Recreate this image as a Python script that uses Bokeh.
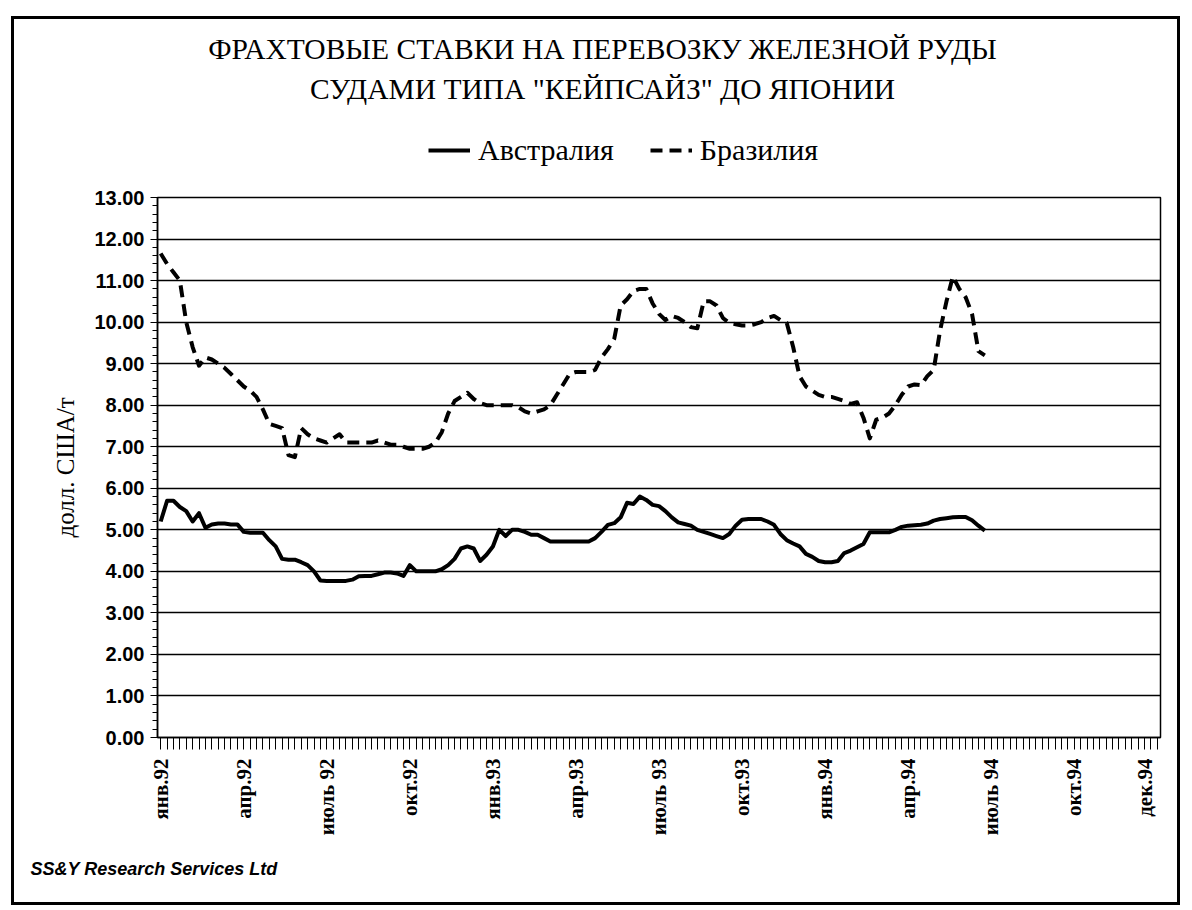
from bokeh.plotting import figure
from bokeh.models import Range1d, FixedTicker, Legend, LegendItem, PrintfTickFormatter, Title, Label
from bokeh.layouts import column
from bokeh.embed import file_html
from bokeh.resources import INLINE
import math

# ---------------- data ----------------
title_lines = ["ФРАХТОВЫЕ СТАВКИ НА ПЕРЕВОЗКУ ЖЕЛЕЗНОЙ РУДЫ",
               "СУДАМИ ТИПА \"КЕЙПСАЙЗ\" ДО ЯПОНИИ"]
series_names = ["Австралия", "Бразилия"]
y_label = "долл. США/т"
source_text = "SS&Y Research Services Ltd"

n_weeks = 157  # weekly categories Jan 92 .. Dec 94

australia = [5.2, 5.7, 5.7, 5.55, 5.45, 5.2, 5.4, 5.05, 5.13, 5.15,
             5.15, 5.13, 5.13, 4.95, 4.93, 4.93, 4.93, 4.75, 4.6, 4.3,
             4.28, 4.28, 4.22, 4.15, 4.0, 3.78, 3.77, 3.77, 3.77, 3.77,
             3.8, 3.88, 3.89, 3.89, 3.93, 3.97, 3.97, 3.95, 3.89, 4.15,
             4.0, 4.0, 4.0, 4.0, 4.05, 4.15, 4.3, 4.55, 4.6, 4.55,
             4.25, 4.4, 4.6, 5.0, 4.85, 5.0, 5.0, 4.95, 4.88, 4.88,
             4.8, 4.72, 4.72, 4.72, 4.72, 4.72, 4.72, 4.72, 4.8, 4.95,
             5.12, 5.16, 5.3, 5.65, 5.62, 5.8, 5.72, 5.6, 5.57, 5.45,
             5.3, 5.18, 5.14, 5.1, 5.0, 4.95, 4.9, 4.85, 4.8, 4.9,
             5.1, 5.24, 5.26, 5.26, 5.26, 5.2, 5.12, 4.9, 4.75, 4.67,
             4.6, 4.42, 4.35, 4.25, 4.22, 4.22, 4.25, 4.44, 4.5, 4.58,
             4.66, 4.94, 4.94, 4.94, 4.94, 5.0, 5.07, 5.1, 5.11, 5.12,
             5.15, 5.22, 5.26, 5.28, 5.3, 5.31, 5.31, 5.23, 5.1, 4.98]

brazil = [11.65, 11.4, 11.2, 11.0, 10.0, 9.4, 8.95, 9.15, 9.1, 9.0,
          8.9, 8.75, 8.6, 8.45, 8.35, 8.2, 7.9, 7.55, 7.5, 7.45,
          6.8, 6.75, 7.45, 7.3, 7.2, 7.15, 7.1, 7.2, 7.3, 7.1,
          7.1, 7.1, 7.1, 7.1, 7.15, 7.1, 7.05, 7.05, 7.0, 6.95,
          6.95, 6.95, 7.0, 7.1, 7.35, 7.8, 8.1, 8.2, 8.3, 8.15,
          8.05, 8.0, 8.0, 8.0, 8.0, 8.0, 7.95, 7.85, 7.8, 7.85,
          7.9, 8.0, 8.25, 8.5, 8.75, 8.8, 8.8, 8.8, 8.85, 9.15,
          9.35, 9.6, 10.4, 10.55, 10.75, 10.8, 10.8, 10.45, 10.2, 10.05,
          10.15, 10.1, 10.0, 9.88, 9.85, 10.5, 10.5, 10.4, 10.1, 9.98,
          9.95, 9.92, 9.92, 9.95, 10.0, 10.1, 10.15, 10.05, 9.98, 9.4,
          8.7, 8.45, 8.35, 8.25, 8.2, 8.2, 8.15, 8.1, 8.03, 8.07,
          7.7, 7.2, 7.65, 7.7, 7.8, 8.0, 8.25, 8.45, 8.5, 8.48,
          8.7, 8.85, 9.8, 10.5, 11.1, 10.8, 10.6, 10.2, 9.3, 9.2]

x_tick_labels = ["янв.92", "апр.92", "июль 92", "окт.92", "янв.93", "апр.93",
                 "июль 93", "окт.93", "янв.94", "апр.94", "июль 94", "окт.94", "дек.94"]
x_tick_weeks = [0, 13, 26, 39, 52, 65, 78, 91, 104, 117, 130, 143, 154]
y_ticks = list(range(0, 14))

weeks_a = list(range(len(australia)))
weeks_b = list(range(len(brazil)))

# ---------------- geometry (page pixels) ----------------
OX, OY = 14, 19            # content origin on the page (wrapper margin + border)
W = 1163
HH = 158                   # header height
H = 883 - HH               # main figure height
FL = 157 - OX
FT = 197 - OY - HH
FW, FH = 1003, 540
FR = W - FL - FW

SOLID = dict(line_color="black", line_width=4, line_join="round")
DASHED = dict(line_color="black", line_width=4, line_join="round", line_dash="12 7")

# ---------------- header: title + legend ----------------
# its frame is aligned with the chart frame (page x 157..1160); ranges in page pixels
head = figure(width=W, height=HH, output_backend="svg", toolbar_location=None,
              x_range=Range1d(157, 157 + FW), y_range=Range1d(OY + HH, OY),
              x_axis_type=None, y_axis_type=None,
              min_border_left=FL, min_border_right=FR,
              min_border_top=0, min_border_bottom=0)
head.outline_line_color = None
head.background_fill_color = "white"
head.border_fill_color = "white"
head.xgrid.visible = False
head.ygrid.visible = False

for txt, ypage in zip(title_lines, [48, 88]):
    head.add_layout(Label(x=602, y=ypage, text=txt,
                          text_align="center", text_baseline="middle",
                          text_font="Liberation Serif", text_font_size="29.5px",
                          text_color="black"))

# legend keys: one-point lines (first value of each series) lying outside this header's view
h_a = head.line([weeks_a[0]], [australia[0]], **SOLID)
h_b = head.line([weeks_b[0]], [brazil[0]], **DASHED)
legend = Legend(items=[LegendItem(label=series_names[0], renderers=[h_a]),
                       LegendItem(label=series_names[1], renderers=[h_b])],
                orientation="horizontal", location=(428 - 157, (OY + HH) - 150 - 17),
                label_text_font="Liberation Serif", label_text_font_size="30px",
                label_text_color="black",
                glyph_width=42, glyph_height=32, spacing=36, label_standoff=8,
                padding=0, margin=0, border_line_alpha=0, background_fill_alpha=0)
head.add_layout(legend)

# ---------------- main chart ----------------
p = figure(width=W, height=H, output_backend="svg", toolbar_location=None,
           x_range=Range1d(-0.5, n_weeks - 0.5), y_range=Range1d(0, 13),
           min_border_left=FL, min_border_top=FT,
           min_border_right=FR, min_border_bottom=H - FT - FH)
p.background_fill_color = "white"
p.border_fill_color = "white"
p.outline_line_color = "black"
p.outline_line_width = 1.5

p.xgrid.visible = False
p.ygrid.ticker = FixedTicker(ticks=y_ticks)
p.ygrid.grid_line_color = "black"
p.ygrid.grid_line_width = 1.3

yax = p.yaxis[0]
yax.ticker = FixedTicker(ticks=y_ticks, minor_ticks=[i / 5 for i in range(0, 66)])
yax.formatter = PrintfTickFormatter(format="%.2f")
yax.major_label_text_font = "Liberation Sans"
yax.major_label_text_font_style = "bold"
yax.major_label_text_font_size = "20px"
yax.major_label_text_color = "black"
yax.major_tick_out = 7
yax.major_tick_in = 0
yax.minor_tick_out = 5
yax.minor_tick_in = 0
yax.major_label_standoff = 6
yax.axis_line_width = 1.5
yax.axis_label = y_label
yax.axis_label_text_font = "Liberation Serif"
yax.axis_label_text_font_style = "normal"
yax.axis_label_text_font_size = "25px"
yax.axis_label_text_color = "black"
yax.axis_label_standoff = 12

xax = p.xaxis[0]
xax.ticker = FixedTicker(ticks=list(range(n_weeks)))
overrides = {i: "" for i in range(n_weeks)}
for w, lab in zip(x_tick_weeks, x_tick_labels):
    overrides[w] = lab
xax.major_label_overrides = overrides
xax.major_label_orientation = math.pi / 2
xax.major_label_text_font = "Liberation Serif"
xax.major_label_text_font_style = "bold"
xax.major_label_text_font_size = "21px"
xax.major_label_text_color = "black"
xax.major_tick_out = 12
xax.major_tick_in = 0
xax.minor_tick_out = 0
xax.minor_tick_in = 0
xax.major_label_standoff = 9
xax.axis_line_width = 1.5

p.line(weeks_a, australia, **SOLID)
p.line(weeks_b, brazil, **DASHED)

p.add_layout(Title(text=source_text, align="left", offset=30 - 157,
                   text_font="Liberation Sans", text_font_style="bold italic",
                   text_font_size="18px", text_color="black", standoff=37), "below")

page = column(head, p, spacing=0,
              styles={"border": "3px solid black", "margin-left": "11px", "margin-top": "16px"})

open("out.html", "w").write(file_html(page, INLINE))
